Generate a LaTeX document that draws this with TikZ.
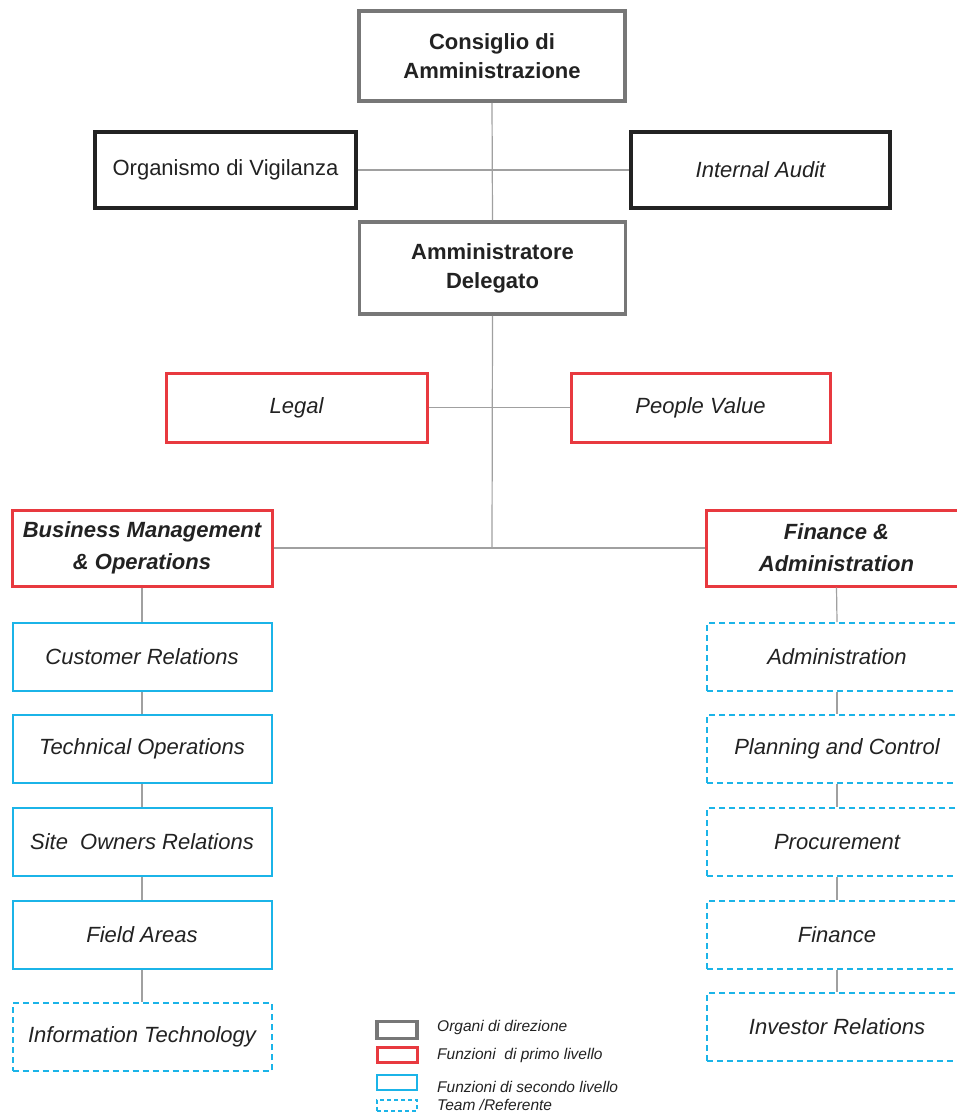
\documentclass[tikz,border=0pt]{standalone}
\usepackage{fontspec}
\setmainfont{Liberation Sans}
\definecolor{boxgray}{HTML}{777777}
\definecolor{boxblack}{HTML}{222222}
\definecolor{boxred}{HTML}{E8393F}
\definecolor{boxblue}{HTML}{1BB4E8}
\definecolor{linegray}{HTML}{A0A0A0}
\definecolor{txt}{HTML}{222222}
\tikzset{
  base/.style={rectangle, fill=white, align=center, text=txt, inner sep=0pt,
    font=\fontsize{22}{28}\selectfont},
  organo/.style={base, draw=boxgray, line width=3.6pt, font=\fontsize{22}{29}\selectfont\bfseries},
  nero/.style={base, draw=boxblack, line width=3.2pt},
  primo/.style={base, draw=boxred, line width=3pt, font=\fontsize{22}{28}\selectfont\itshape},
  primob/.style={primo, font=\fontsize{22}{32}\selectfont\bfseries\itshape},
  secondo/.style={base, draw=boxblue, line width=2pt, font=\fontsize{22}{28}\selectfont\itshape},
  team/.style={secondo, dashed, dash pattern=on 6pt off 4pt},
  conn/.style={draw=linegray, line width=1.2pt},
  legtxt/.style={anchor=west, inner sep=0pt, text=txt, font=\fontsize{15.5}{17}\selectfont\itshape},
}
\begin{document}
\begin{tikzpicture}[x=1pt,y=-1pt]
\useasboundingbox (0,0) rectangle (957,1115);
\clip (0,0) rectangle (957,1115);
% top level
\node[organo, minimum width=266pt, minimum height=90pt] (cda) at (492,56) {Consiglio di\\Amministrazione};
\node[nero, minimum width=261pt, minimum height=76pt] (odv) at (225.5,170) {Organismo di Vigilanza};
\node[nero, minimum width=259pt, minimum height=76pt, font=\fontsize{22}{28}\selectfont\itshape] (ia) at (760.5,170) {Internal Audit};
\node[organo, minimum width=266pt, minimum height=92pt] (ad) at (492.5,268) {Amministratore\\Delegato};
\node[primo, minimum width=261pt, minimum height=69pt] (legal) at (296.5,407.5) {Legal};
\node[primo, minimum width=259pt, minimum height=69pt] (pv) at (700.5,407.5) {People Value};
\node[primob, minimum width=260pt, minimum height=76pt] (bmo) at (142,548) {Business Management\\\& Operations};
\node[primob, minimum width=261pt, minimum height=76pt] (fa) at (836.5,548) {Finance \&\\Administration};
\coordinate (hub) at (492,547);
% left column
\node[secondo, minimum width=259pt, minimum height=68pt] (cr) at (142,657) {Customer Relations};
\node[secondo, minimum width=259pt, minimum height=68pt] (to) at (142,749) {Technical Operations};
\node[secondo, minimum width=259pt, minimum height=68pt] (sor) at (142,842) {Site\ \ Owners Relations};
\node[secondo, minimum width=259pt, minimum height=68pt] (fiel) at (142,935) {Field Areas};
\node[team, minimum width=259pt, minimum height=68pt] (it) at (142,1037) {Information Technology};
% right column
\node[team, minimum width=260pt, minimum height=68pt] (adm) at (837,657) {Administration};
\node[team, minimum width=260pt, minimum height=68pt] (pc) at (837,749) {Planning and Control};
\node[team, minimum width=260pt, minimum height=68pt] (proc) at (837,842) {Procurement};
\node[team, minimum width=260pt, minimum height=68pt] (fin) at (837,935) {Finance};
\node[team, minimum width=260pt, minimum height=68pt] (ir) at (837,1027) {Investor Relations};
% connectors
\draw[conn] (cda.south) -- (ad.north);
\draw[conn] (odv.east) -- (ia.west);
\draw[conn] (legal.east) -- (pv.west);
\draw[conn] (ad.south) -- (hub);
\draw[conn] (bmo.east) -- (fa.west);
\draw[conn] (bmo.south) -- (cr.north);
\draw[conn] (cr.south) -- (to.north);
\draw[conn] (to.south) -- (sor.north);
\draw[conn] (sor.south) -- (fiel.north);
\draw[conn] (fiel.south) -- (it.north);
\draw[conn] (fa.south) -- (adm.north);
\draw[conn] (adm.south) -- (pc.north);
\draw[conn] (pc.south) -- (proc.north);
\draw[conn] (proc.south) -- (fin.north);
\draw[conn] (fin.south) -- (ir.north);
% legend
\node[organo, minimum width=40pt, minimum height=17pt] (lg1) at (397,1030) {};
\node[primo, minimum width=40pt, minimum height=15pt] (lg2) at (397,1055) {};
\node[secondo, minimum width=40pt, minimum height=15pt] (lg3) at (397,1082) {};
\node[team, minimum width=40pt, minimum height=11pt, dash pattern=on 4pt off 3pt] (lg4) at (397,1105) {};
\node[legtxt] (lt1) at (437,1027) {Organi di direzione};
\node[legtxt] (lt2) at (437,1055) {Funzioni\ \ di primo livello};
\node[legtxt] (lt3) at (437,1087) {Funzioni di secondo livello};
\node[legtxt] (lt4) at (437,1105) {Team /Referente};
\end{tikzpicture}
\end{document}
